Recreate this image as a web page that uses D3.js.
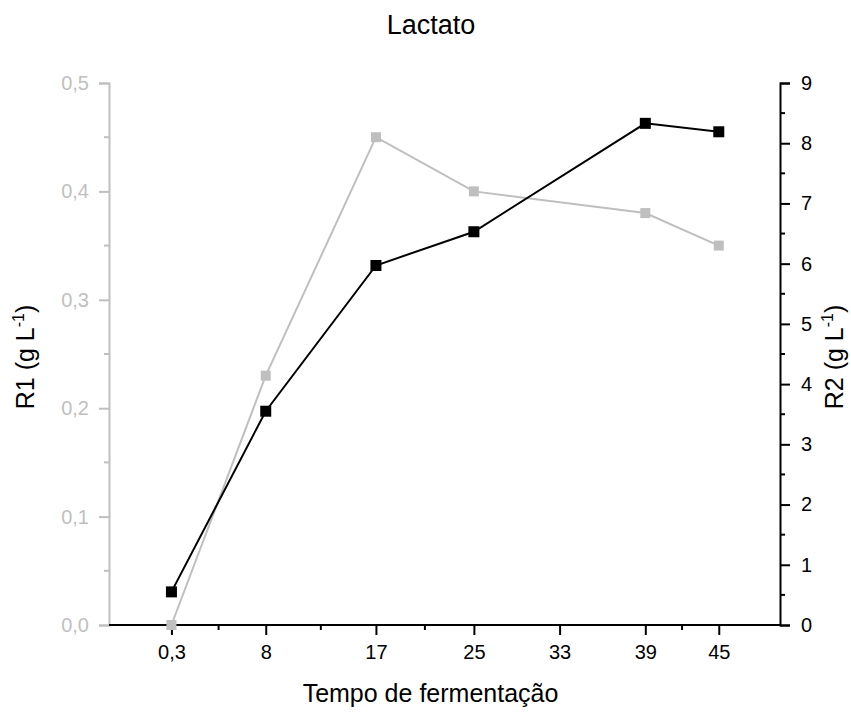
<!DOCTYPE html>
<html>
<head>
<meta charset="utf-8">
<script src="https://cdn.jsdelivr.net/npm/d3@7"></script>
<style>
  body { margin: 0; background: #fff; }
  svg text { font-family: "Liberation Sans", Arial, sans-serif; }
</style>
</head>
<body>
<svg width="851" height="713"></svg>
<script>
const tempo = [0.3, 8, 17, 25, 39, 45];
const r1 = [0.0, 0.23, 0.45, 0.40, 0.38, 0.35];
const r2 = [0.55, 3.55, 5.97, 6.53, 8.33, 8.19];

const xTickValues = [0.3, 8, 17, 25, 32, 39, 45];
const xTickLabels = ['0,3', '8', '17', '25', '33', '39', '45'];
const xMinorTicks = [4.15, 12.5, 21, 42];

const svg = d3.select('svg');
const width = +svg.attr('width');
const height = +svg.attr('height');

const margin = { top: 83, right: 71, bottom: 88, left: 109 };
const innerWidth = width - margin.left - margin.right;
const innerHeight = height - margin.top - margin.bottom;

const grey = '#bfbfbf';
const tickFont = 20;

const xScale = d3.scaleLinear()
    .domain([-4.8, 50])
    .range([0, innerWidth]);

const yLeft = d3.scaleLinear()
    .domain([0, 0.5])
    .range([innerHeight, 0]);

const yRight = d3.scaleLinear()
    .domain([0, 9])
    .range([innerHeight, 0]);

const g = svg.append('g')
    .attr('transform', `translate(${margin.left}, ${margin.top})`);

// left axis (grey)
const leftG = g.append('g')
    .call(d3.axisLeft(yLeft)
        .tickValues(d3.range(0, 0.51, 0.1))
        .tickFormat(d => d3.format('.1f')(d).replace('.', ','))
        .tickSize(10)
        .tickPadding(10))
    .attr('font-size', tickFont)
    .attr('font-family', null);
leftG.selectAll('.domain, .tick line').attr('stroke', grey).attr('stroke-width', 2);
leftG.selectAll('.tick text').attr('fill', grey);
leftG.selectAll('.minor').data(d3.range(0.05, 0.5, 0.1))
    .enter().append('line')
        .attr('x1', 0).attr('x2', -5)
        .attr('y1', d => yLeft(d)).attr('y2', d => yLeft(d))
        .attr('stroke', grey).attr('stroke-width', 2);

// right axis (black)
const rightG = g.append('g')
    .attr('transform', `translate(${innerWidth}, 0)`)
    .call(d3.axisRight(yRight)
        .tickValues(d3.range(0, 10, 1))
        .tickSize(10)
        .tickPadding(11))
    .attr('font-size', tickFont)
    .attr('font-family', null);
rightG.selectAll('.domain, .tick line').attr('stroke', '#000').attr('stroke-width', 2);
rightG.selectAll('.tick text').attr('fill', '#000');
rightG.selectAll('.minor').data(d3.range(0.5, 9, 1))
    .enter().append('line')
        .attr('x1', 0).attr('x2', 5)
        .attr('y1', d => yRight(d)).attr('y2', d => yRight(d))
        .attr('stroke', '#000').attr('stroke-width', 2);

// bottom axis
const xAxisG = g.append('g')
    .attr('transform', `translate(0, ${innerHeight})`)
    .call(d3.axisBottom(xScale)
        .tickValues(xTickValues)
        .tickFormat((d, i) => xTickLabels[i])
        .tickSize(10)
        .tickPadding(10))
    .attr('font-size', tickFont)
    .attr('font-family', null);
xAxisG.select('.domain').attr('d', `M0,0H${innerWidth}`);
xAxisG.selectAll('.domain, .tick line').attr('stroke', '#000').attr('stroke-width', 2);
xAxisG.selectAll('.tick text').attr('fill', '#000');
xAxisG.selectAll('.minor').data(xMinorTicks)
    .enter().append('line')
        .attr('x1', d => xScale(d)).attr('x2', d => xScale(d))
        .attr('y1', 0).attr('y2', 5)
        .attr('stroke', '#000').attr('stroke-width', 2);

// series R1 (grey)
const lineR1 = d3.line()
    .x((d, i) => xScale(tempo[i]))
    .y(d => yLeft(d));
g.append('path')
    .datum(r1)
    .attr('d', lineR1)
    .attr('fill', 'none')
    .attr('stroke', grey)
    .attr('stroke-width', 2);
g.selectAll('.m1').data(r1)
    .enter().append('rect')
        .attr('x', (d, i) => xScale(tempo[i]) - 5)
        .attr('y', d => yLeft(d) - 5)
        .attr('width', 10)
        .attr('height', 10)
        .attr('fill', grey);

// series R2 (black)
const lineR2 = d3.line()
    .x((d, i) => xScale(tempo[i]))
    .y(d => yRight(d));
g.append('path')
    .datum(r2)
    .attr('d', lineR2)
    .attr('fill', 'none')
    .attr('stroke', '#000')
    .attr('stroke-width', 2);
g.selectAll('.m2').data(r2)
    .enter().append('rect')
        .attr('x', (d, i) => xScale(tempo[i]) - 5.5)
        .attr('y', d => yRight(d) - 5.5)
        .attr('width', 11)
        .attr('height', 11)
        .attr('fill', '#000');

// titles
svg.append('text')
    .attr('x', 431)
    .attr('y', 34)
    .attr('text-anchor', 'middle')
    .attr('font-size', 27)
    .text('Lactato');

svg.append('text')
    .attr('x', margin.left + innerWidth / 2 - 14)
    .attr('y', 702)
    .attr('text-anchor', 'middle')
    .attr('font-size', 25)
    .text('Tempo de fermentação');

const yTitle = (x, label) => {
    const t = svg.append('text')
        .attr('transform', `translate(${x}, 357) rotate(-90)`)
        .attr('text-anchor', 'middle')
        .attr('font-size', 25);
    t.append('tspan').text(label + ' (g L');
    t.append('tspan').attr('dy', -10).attr('font-size', 16).text('-1');
    t.append('tspan').attr('dy', 10).text(')');
};
yTitle(34, 'R1');
yTitle(843, 'R2');
</script>
</body>
</html>
